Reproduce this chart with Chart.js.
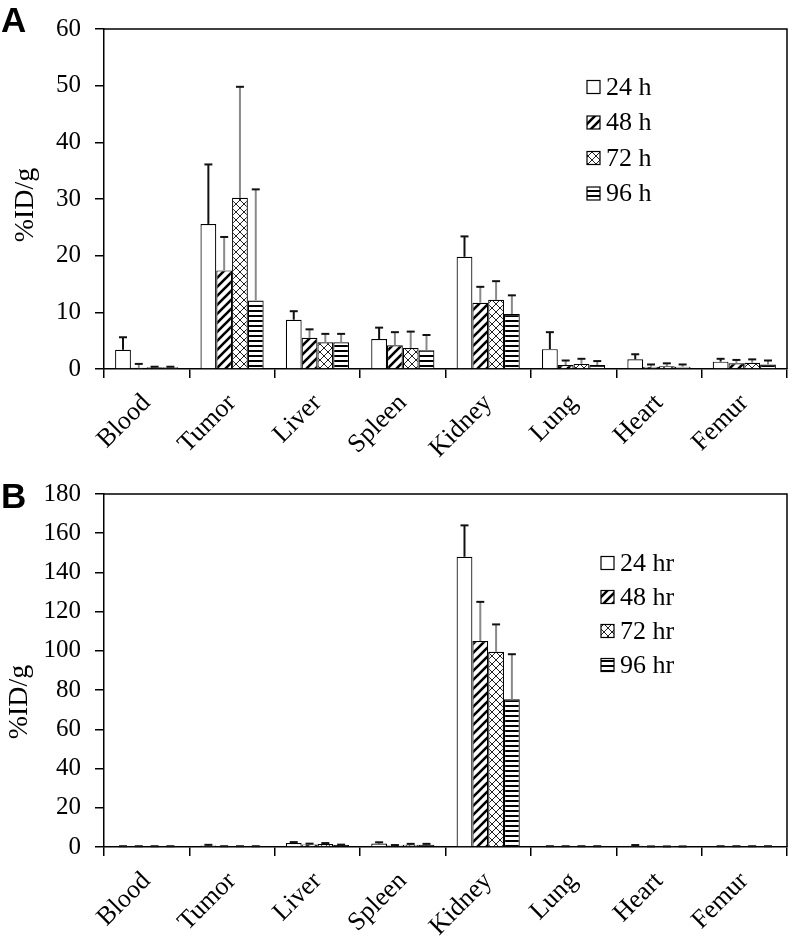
<!DOCTYPE html>
<html lang="en">
<head>
<meta charset="UTF-8">
<title>Biodistribution %ID/g</title>
<script src="https://cdn.jsdelivr.net/npm/chart.js"></script>
<style>
  body { margin: 0; background: #fff; }
  .panel { position: absolute; left: 0; width: 792px; }
  .letter { position: absolute; left: 1px; font: bold 35px 'Liberation Sans', Arial, sans-serif; color: #000; }
</style>
</head>
<body>
<div class="panel" style="top:0;height:460px"><canvas id="chartA" width="792" height="460"></canvas></div>
<div class="panel" style="top:460px;height:476px"><canvas id="chartB" width="792" height="476"></canvas></div>
<div class="letter" style="top:0px">A</div>
<div class="letter" style="top:476px">B</div>

<script>
// categories
const organs = ['Blood', 'Tumor', 'Liver', 'Spleen', 'Kidney', 'Lung', 'Heart', 'Femur'];
const labelsA = ['24 h', '48 h', '72 h', '96 h'];
const labelsB = ['24 hr', '48 hr', '72 hr', '96 hr'];

// panel A: means and SD (upper error bars)
const a24 = [3.4, 25.6, 8.7, 5.3, 19.8, 3.5, 1.7, 1.3];
const a48 = [0.2, 17.4, 5.5, 4.2, 11.7, 0.7, 0.4, 1.0];
const a72 = [0.3, 30.2, 4.7, 3.7, 12.2, 0.9, 0.5, 1.1];
const a96 = [0.3, 12.1, 4.7, 3.3, 9.7, 0.7, 0.4, 0.8];
const a24sd = [2.2, 10.5, 1.5, 2.0, 3.6, 3.0, 0.9, 0.5];
const a48sd = [0.7, 5.9, 1.5, 2.3, 2.8, 0.8, 0.4, 0.6];
const a72sd = [0.1, 19.6, 1.5, 2.9, 3.3, 0.9, 0.5, 0.6];
const a96sd = [0.1, 19.6, 1.5, 2.7, 3.3, 0.7, 0.4, 0.7];

// panel B
const b24 = [0.3, 0.8, 2.0, 1.8, 148, 0.3, 0.7, 0.3];
const b48 = [0.3, 0.3, 1.3, 0.8, 105, 0.3, 0.2, 0.3];
const b72 = [0.3, 0.3, 1.5, 1.1, 99.5, 0.3, 0.2, 0.3];
const b96 = [0.3, 0.3, 1.0, 1.1, 75.3, 0.3, 0.2, 0.3];
const b24sd = [0.1, 0.3, 0.5, 0.6, 16, 0.1, 0.3, 0.1];
const b48sd = [0.1, 0.1, 0.4, 0.2, 20, 0.1, 0.1, 0.1];
const b72sd = [0.1, 0.1, 0.5, 0.5, 14, 0.1, 0.1, 0.1];
const b96sd = [0.1, 0.1, 0.2, 0.5, 23, 0.1, 0.1, 0.1];

const serif = "'Liberation Serif', 'Times New Roman', serif";

// fill patterns for the four time points
function makePattern(kind) {
  if (kind === 'white') return '#ffffff';
  const c = document.createElement('canvas');
  const ctx = c.getContext('2d');
  if (kind === 'diag') {
    c.width = 9; c.height = 9;
    ctx.fillStyle = '#fff'; ctx.fillRect(0, 0, 9, 9);
    ctx.strokeStyle = '#000'; ctx.lineWidth = 2.6;
    ctx.beginPath();
    ctx.moveTo(-2, 11); ctx.lineTo(11, -2);
    ctx.moveTo(-2, 2); ctx.lineTo(2, -2);
    ctx.moveTo(7, 11); ctx.lineTo(11, 7);
    ctx.stroke();
  } else if (kind === 'cross') {
    c.width = 8; c.height = 8;
    ctx.fillStyle = '#fff'; ctx.fillRect(0, 0, 8, 8);
    ctx.strokeStyle = '#222'; ctx.lineWidth = 1;
    ctx.beginPath();
    ctx.moveTo(0, 0); ctx.lineTo(8, 8);
    ctx.moveTo(0, 8); ctx.lineTo(8, 0);
    ctx.stroke();
  } else if (kind === 'horiz') {
    c.width = 4; c.height = 5;
    ctx.fillStyle = '#fff'; ctx.fillRect(0, 0, 4, 5);
    ctx.fillStyle = '#000'; ctx.fillRect(0, 0, 4, 2);
  }
  return ctx.createPattern(c, 'repeat');
}
const fills = [makePattern('white'), makePattern('diag'), makePattern('cross'), makePattern('horiz')];

const errorBars = {
  id: 'errorBars',
  afterDatasetsDraw(chart) {
    const ctx = chart.ctx;
    const y = chart.scales.y;
    chart.data.datasets.forEach((ds, i) => {
      chart.getDatasetMeta(i).data.forEach((bar, j) => {
        const top = y.getPixelForValue(ds.data[j] + ds.sd[j]);
        ctx.save();
        ctx.lineWidth = 2;
        ctx.strokeStyle = i === 0 ? '#111' : '#8a8a8a';
        ctx.beginPath(); ctx.moveTo(bar.x, bar.y); ctx.lineTo(bar.x, top); ctx.stroke();
        ctx.strokeStyle = '#111';
        ctx.beginPath(); ctx.moveTo(bar.x - 4, top); ctx.lineTo(bar.x + 4, top); ctx.stroke();
        ctx.restore();
      });
    });
  }
};

// top and right edges of the plot box
const frame = {
  id: 'frame',
  afterDraw(chart) {
    const { ctx, chartArea: a } = chart;
    ctx.save();
    ctx.strokeStyle = '#000'; ctx.lineWidth = 1.5;
    ctx.beginPath();
    ctx.moveTo(a.left, a.top); ctx.lineTo(a.right, a.top); ctx.lineTo(a.right, a.bottom);
    ctx.stroke();
    ctx.restore();
  }
};

// legend drawn inside the plot like the original
const boxLegend = {
  id: 'boxLegend',
  afterDraw(chart, args, opts) {
    const ctx = chart.ctx;
    ctx.save();
    ctx.font = '26px ' + serif;
    ctx.textBaseline = 'middle';
    chart.data.datasets.forEach((ds, i) => {
      const cy = opts.y + i * opts.step;
      ctx.fillStyle = ds.backgroundColor;
      ctx.fillRect(opts.x, cy - 6.5, 13, 13);
      ctx.strokeStyle = '#000'; ctx.lineWidth = 1.2;
      ctx.strokeRect(opts.x, cy - 6.5, 13, 13);
      ctx.fillStyle = '#000';
      ctx.fillText(ds.label, opts.x + 19, cy + 1);
    });
    ctx.restore();
  }
};

// y axis title, placed where the original has it
const yTitle = {
  id: 'yTitle',
  afterDraw(chart, args, opts) {
    const ctx = chart.ctx;
    ctx.save();
    ctx.translate(opts.x, opts.y);
    ctx.rotate(-Math.PI / 2);
    ctx.font = '28px ' + serif;
    ctx.fillStyle = '#000';
    ctx.textAlign = 'center';
    ctx.textBaseline = 'middle';
    ctx.fillText(opts.text, 0, 0);
    ctx.restore();
  }
};

function makeChart(id, labels, series, sds, yMax, yStep, topPad, xHeight, titlePos, legendPos) {
  new Chart(document.getElementById(id), {
    type: 'bar',
    data: {
      labels: organs,
      datasets: series.map((d, i) => ({
        label: labels[i],
        data: d,
        sd: sds[i],
        backgroundColor: fills[i],
        borderColor: '#000',
        borderWidth: 1.2,
        categoryPercentage: 0.74,
        barPercentage: 1.0
      }))
    },
    options: {
      responsive: false,
      animation: false,
      layout: { padding: { top: topPad, right: 5, left: 0, bottom: 0 } },
      plugins: {
        legend: { display: false },
        tooltip: { enabled: false },
        boxLegend: legendPos,
        yTitle: titlePos
      },
      scales: {
        x: {
          afterFit: s => { s.height = xHeight; },
          grid: { drawOnChartArea: false, tickLength: 9, color: '#000', lineWidth: 1.5, offset: true },
          border: { color: '#000', width: 1.5 },
          ticks: { color: '#000', font: { family: serif, size: 26 }, minRotation: 45, maxRotation: 45, autoSkip: false, padding: 10 }
        },
        y: {
          min: 0, max: yMax,
          afterFit: s => { s.width = 104; },
          grid: { drawOnChartArea: false, tickLength: 9, color: '#000', lineWidth: 1.5 },
          border: { color: '#000', width: 1.5 },
          ticks: { stepSize: yStep, color: '#000', font: { family: serif, size: 25 }, padding: 14 }
        }
      }
    },
    plugins: [errorBars, frame, boxLegend, yTitle]
  });
}

makeChart('chartA', labelsA, [a24, a48, a72, a96], [a24sd, a48sd, a72sd, a96sd], 60, 10, 15, 91,
  { text: '%ID/g', x: 26, y: 205 }, { x: 587, y: 87, step: 35.5 });
makeChart('chartB', labelsB, [b24, b48, b72, b96], [b24sd, b48sd, b72sd, b96sd], 180, 20, 34, 89,
  { text: '%ID/g', x: 20, y: 242 }, { x: 601, y: 103, step: 34 });
</script>
</body>
</html>
